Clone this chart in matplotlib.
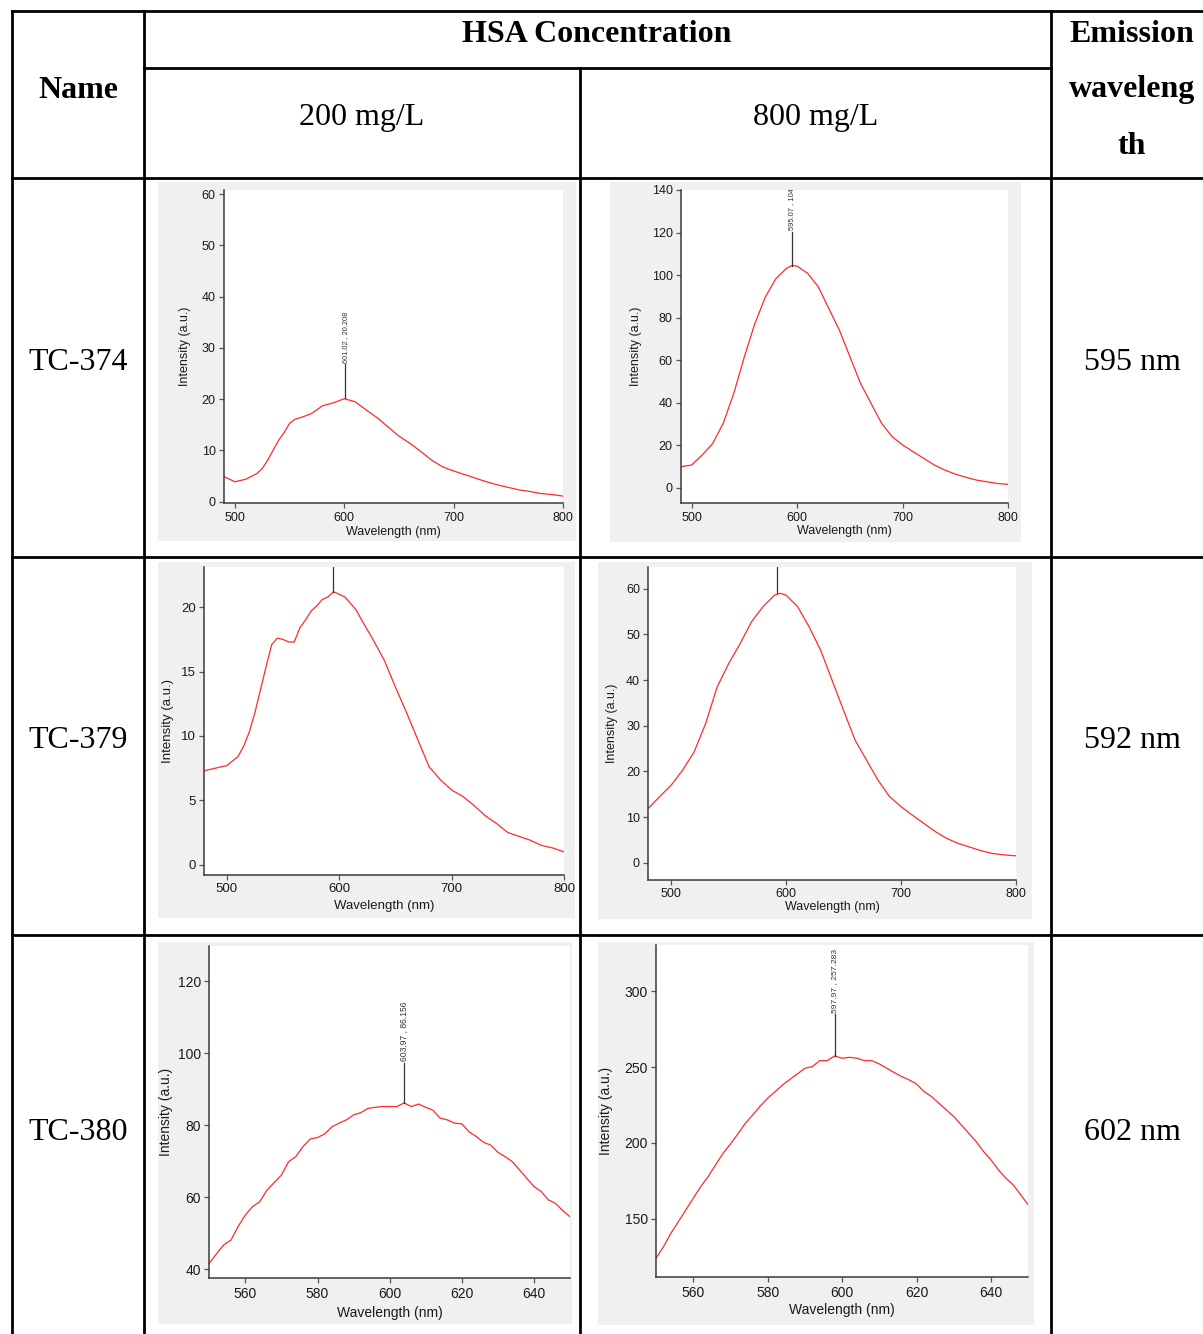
import matplotlib
matplotlib.use("Agg")
import matplotlib.pyplot as plt
from matplotlib.patches import Rectangle
from matplotlib.lines import Line2D

W, H = 1203, 1334

# ---------------- data ----------------
header_name = "Name"
header_group = "HSA Concentration"
concentrations = ["200 mg/L", "800 mg/L"]
header_emission = ["Emission", "waveleng", "th"]
compounds = ["TC-374", "TC-379", "TC-380"]
emission = ["595 nm", "592 nm", "602 nm"]

# TC-374, 200 mg/L
wl_374_200 = [490, 500, 510, 520, 525, 530, 535, 540, 545, 550, 555, 560, 570, 580, 590, 600,
              610, 620, 630, 640, 650, 660, 670, 680, 690, 700, 710, 720, 730, 740, 750, 760,
              770, 780, 790, 800]
int_374_200 = [4.9, 3.9, 4.4, 5.5, 6.5, 8.1, 10.1, 12.0, 13.5, 15.3, 16.1, 16.4, 17.2, 18.7,
               19.3, 20.1, 19.5, 17.9, 16.4, 14.6, 12.8, 11.4, 9.8, 8.1, 6.8, 6.0, 5.3, 4.6,
               3.9, 3.3, 2.8, 2.3, 2.0, 1.6, 1.4, 1.1]
# TC-374, 800 mg/L
wl_374_800 = [490, 500, 510, 520, 530, 540, 550, 560, 570, 580, 590, 595, 600, 610, 620, 630,
              640, 650, 660, 670, 680, 690, 700, 710, 720, 730, 740, 750, 760, 770, 780, 790, 800]
int_374_800 = [9.9, 10.7, 15.4, 20.8, 30.3, 44.4, 61.6, 77.3, 89.8, 98.4, 103.2, 104.5, 104.2, 100.8,
               94.5, 84.3, 74.1, 61.6, 49.1, 39.7, 30.3, 24.0, 20.1, 16.9, 13.8, 10.7, 8.3, 6.4,
               4.9, 3.6, 2.8, 2.0, 1.6]
# TC-379, 200 mg/L
wl_379_200 = [480, 490, 500, 510, 515, 520, 525, 530, 535, 540, 545, 550, 555, 560, 565, 570,
              575, 580, 585, 590, 595, 600, 605, 610, 615, 620, 630, 640, 650, 660, 670, 680,
              690, 700, 710, 720, 730, 740, 750, 760, 770, 780, 790, 800]
int_379_200 = [7.3, 7.5, 7.7, 8.4, 9.2, 10.3, 11.8, 13.6, 15.4, 17.1, 17.6, 17.5, 17.3, 17.3,
               18.4, 19.0, 19.7, 20.1, 20.6, 20.8, 21.2, 21.0, 20.8, 20.3, 19.8, 19.0, 17.5,
               15.9, 13.8, 11.8, 9.7, 7.6, 6.6, 5.8, 5.3, 4.6, 3.8, 3.2, 2.5, 2.2, 1.9, 1.5,
               1.3, 1.0]
# TC-379, 800 mg/L
wl_379_800 = [480, 490, 500, 510, 520, 530, 540, 550, 560, 570, 580, 590, 595, 600, 610, 620,
              630, 640, 650, 660, 670, 680, 690, 700, 710, 720, 730, 740, 750, 760, 770, 780,
              790, 800]
int_379_800 = [11.9, 14.5, 17.0, 20.3, 24.3, 30.5, 38.5, 43.6, 48.0, 52.8, 56.1, 58.6, 59.0,
               58.6, 56.1, 51.7, 46.6, 40.0, 33.4, 26.9, 22.5, 18.1, 14.5, 12.3, 10.4, 8.6,
               6.8, 5.3, 4.2, 3.4, 2.6, 2.0, 1.7, 1.5]
# TC-380, 200 mg/L
wl_380_200 = [550, 552, 554, 556, 558, 560, 562, 564, 566, 568, 570, 572, 574, 576, 578, 580,
              582, 584, 586, 588, 590, 592, 594, 596, 598, 600, 602, 604, 606, 608, 610, 612,
              614, 616, 618, 620, 622, 624, 626, 628, 630, 632, 634, 636, 638, 640, 642, 644,
              646, 648, 650]
int_380_200 = [41.7, 44.3, 46.8, 48.1, 51.9, 55.1, 57.4, 58.8, 62.0, 64.1, 66.2, 69.9, 71.3,
               74.1, 76.2, 76.6, 77.6, 79.6, 80.6, 81.5, 82.9, 83.5, 84.7, 85.0, 85.2, 85.2,
               85.2, 86.2, 85.2, 85.9, 85.0, 84.2, 82.0, 81.5, 80.6, 80.4, 78.2, 76.9, 75.3,
               74.5, 72.5, 71.3, 69.9, 67.6, 65.3, 63.0, 61.6, 59.3, 58.3, 56.3, 54.6]
# TC-380, 800 mg/L
wl_380_800 = [550, 552, 554, 556, 558, 560, 562, 564, 566, 568, 570, 572, 574, 576, 578, 580,
              582, 584, 586, 588, 590, 592, 594, 596, 598, 600, 602, 604, 606, 608, 610, 612,
              614, 616, 618, 620, 622, 624, 626, 628, 630, 632, 634, 636, 638, 640, 642, 644,
              646, 648, 650]
int_380_800 = [123.8, 131.5, 140.3, 148.0, 155.7, 163.4, 171.1, 177.7, 185.4, 193.1, 199.3,
               205.9, 212.9, 218.4, 224.3, 229.4, 233.8, 238.2, 241.9, 245.5, 249.2, 250.3,
               254.2, 254.2, 257.3, 255.8, 256.4, 255.8, 254.2, 254.2, 252.0, 249.2, 246.3,
               243.7, 241.5, 238.8, 233.8, 230.5, 226.1, 221.7, 217.3, 211.8, 206.3, 200.8,
               194.2, 188.7, 182.1, 176.6, 172.2, 165.6, 159.0]

# peak markers: (wavelength, intensity, label)
peak_374_200 = (601.02, 20.208, "601.02 , 20.208")
peak_374_800 = (595.07, 104.5, "595.07 , 104")
peak_379_200 = (594.4, 21.2, "")
peak_379_800 = (592.0, 59.0, "")
peak_380_200 = (603.97, 86.156, "603.97 , 86.156")
peak_380_800 = (597.97, 257.283, "597.97 , 257.283")

# ---------------- figure ----------------
fig = plt.figure(figsize=(W / 100, H / 100), dpi=100)
fig.patch.set_facecolor("white")


def fx(x):
    return x / W


def fy(y):
    return 1 - y / H


def hline(y, x0, x1, lw=2.0):
    fig.add_artist(Line2D([fx(x0), fx(x1)], [fy(y), fy(y)], color="black", lw=lw,
                          transform=fig.transFigure, zorder=5))


def vline(x, y0, y1, lw=2.0):
    fig.add_artist(Line2D([fx(x), fx(x)], [fy(y0), fy(y1)], color="black", lw=lw,
                          transform=fig.transFigure, zorder=5))


# table grid
hline(11, 12, 1203)
hline(68, 144, 1051)
hline(178, 12, 1203)
hline(557, 12, 1203)
hline(935, 12, 1203)
vline(12, 11, 1334)
vline(144, 11, 1334)
vline(580, 68, 1334)
vline(1051, 11, 1334)

serif = "Liberation Serif"
FS = 23
DY = 3  # small downward shift so glyph centres match
fig.text(fx(78), fy(87 + DY), header_name, ha="center", va="center", fontsize=FS,
         family=serif, weight="bold")
fig.text(fx(597), fy(32 + DY), header_group, ha="center", va="center", fontsize=FS,
         family=serif, weight="bold")
for xc, t in zip([362, 816], concentrations):
    fig.text(fx(xc), fy(115 + DY), t, ha="center", va="center", fontsize=FS, family=serif)
for yc, t in zip([32, 87, 143], header_emission):
    fig.text(fx(1132), fy(yc + DY), t, ha="center", va="center", fontsize=FS, family=serif,
             weight="bold")
for yc, t, e in zip([360, 738, 1130], compounds, emission):
    fig.text(fx(78), fy(yc + DY), t, ha="center", va="center", fontsize=FS, family=serif)
    fig.text(fx(1132), fy(yc + DY), e, ha="center", va="center", fontsize=FS, family=serif)

sans = "Liberation Sans"

panels = [
    dict(panel=(158, 182, 576, 541), ax=(224, 190, 563, 503.3), xlim=(490, 800),
         ylim=(-0.3, 60.8), xt=[500, 600, 700, 800], yt=[0, 10, 20, 30, 40, 50, 60],
         x=wl_374_200, y=int_374_200, peak=peak_374_200, top=26.8, ylx=-0.097, xly=-0.072,
         fs=9.0, afs=5.3),
    dict(panel=(610, 182, 1021, 542), ax=(681, 190, 1008.3, 503.3), xlim=(490, 800),
         ylim=(-7.3, 140), xt=[500, 600, 700, 800], yt=[0, 20, 40, 60, 80, 100, 120, 140],
         x=wl_374_800, y=int_374_800, peak=peak_374_800, top=120.4, ylx=-0.12, xly=-0.07,
         fs=9.0, afs=5.4),
    dict(panel=(158, 562, 575, 918), ax=(204.3, 567.3, 564, 875), xlim=(480, 800),
         ylim=(-0.8, 23.1), xt=[500, 600, 700, 800], yt=[0, 5, 10, 15, 20],
         x=wl_379_200, y=int_379_200, peak=peak_379_200, top=30, ylx=-0.085, xly=-0.08,
         fs=9.5, afs=5.4),
    dict(panel=(598, 562, 1032, 919), ax=(648.3, 567.3, 1015.7, 880), xlim=(480, 800),
         ylim=(-3.8, 64.7), xt=[500, 600, 700, 800], yt=[0, 10, 20, 30, 40, 50, 60],
         x=wl_379_800, y=int_379_800, peak=peak_379_800, top=80, ylx=-0.083, xly=-0.068,
         fs=9.0, afs=5.4),
    dict(panel=(158, 942, 572, 1324), ax=(209.3, 946, 570, 1278.3), xlim=(550, 650),
         ylim=(37.5, 129.8), xt=[560, 580, 600, 620, 640], yt=[40, 60, 80, 100, 120],
         x=wl_380_200, y=int_380_200, peak=peak_380_200, top=97.4, ylx=-0.10, xly=-0.082,
         fs=10.0, afs=6.2),
    dict(panel=(598, 942, 1034, 1325), ax=(656, 945, 1028.3, 1277.3), xlim=(550, 650),
         ylim=(111.3, 330.5), xt=[560, 580, 600, 620, 640], yt=[150, 200, 250, 300],
         x=wl_380_800, y=int_380_800, peak=peak_380_800, top=285, ylx=-0.115, xly=-0.078,
         fs=10.0, afs=6.1),
]

for p in panels:
    x0, y0, x1, y1 = p["panel"]
    fig.add_artist(Rectangle((fx(x0), fy(y1)), (x1 - x0) / W, (y1 - y0) / H,
                             transform=fig.transFigure, facecolor="#f0f0f0",
                             edgecolor="none", zorder=0.5))
    l, t, r, b = p["ax"]
    ax = fig.add_axes([fx(l), fy(b), (r - l) / W, (b - t) / H])
    ax.set_zorder(2)
    ax.set_facecolor("white")
    ax.plot(p["x"], p["y"], color="#ff2a2a", lw=0.9)
    ax.set_xlim(*p["xlim"])
    ax.set_ylim(*p["ylim"])
    ax.set_xticks(p["xt"])
    ax.set_yticks(p["yt"])
    for s in ["top", "right"]:
        ax.spines[s].set_visible(False)
    for s in ["left", "bottom"]:
        ax.spines[s].set_color("#3a3a3a")
        ax.spines[s].set_linewidth(1.1)
    ax.tick_params(direction="out", length=3.5, width=0.9, color="#555555",
                   labelsize=p["fs"], labelcolor="#1a1a1a", pad=2.5)
    for lab in ax.get_xticklabels() + ax.get_yticklabels():
        lab.set_family(sans)
    ax.set_xlabel("Wavelength (nm)", fontsize=p["fs"], family=sans, color="#1a1a1a")
    ax.set_ylabel("Intensity (a.u.)", fontsize=p["fs"], family=sans, color="#1a1a1a")
    ax.xaxis.set_label_coords(0.5, p["xly"])
    ax.yaxis.set_label_coords(p["ylx"], 0.5)
    px, py, ptxt = p["peak"]
    ax.plot([px, px], [py, p["top"]], color="#333333", lw=0.9, clip_on=True)
    if ptxt:
        ax.text(px, p["top"] + (p["ylim"][1] - p["ylim"][0]) * 0.004, ptxt, rotation=90,
                rotation_mode="anchor", ha="left", va="center", fontsize=p["afs"],
                family=sans, color="#333333", clip_on=True)

fig.savefig("out.png", dpi=100, facecolor="white")
